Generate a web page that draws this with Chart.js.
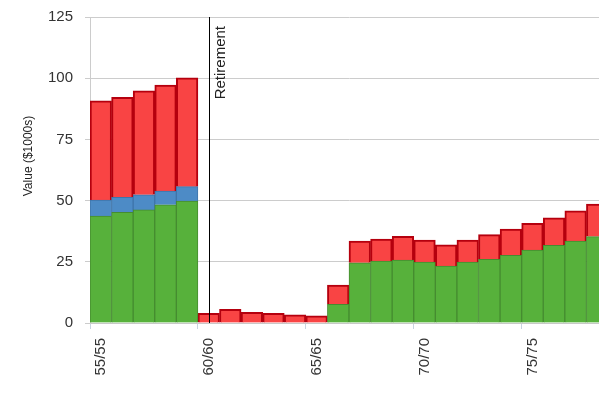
<!DOCTYPE html>
<html>
<head>
<meta charset="utf-8">
<script src="https://cdn.jsdelivr.net/npm/chart.js@4/dist/chart.umd.min.js"></script>
<style>
  html, body { margin: 0; padding: 0; background: #fff; overflow: hidden; }
  canvas { display: block; }
</style>
</head>
<body>
<canvas id="Grafico" width="608" height="396"></canvas>
<script>
const ages = [55, 56, 57, 58, 59, 60, 61, 62, 63, 64, 65, 66, 67, 68, 69, 70, 71, 72, 73, 74, 75, 76, 77, 78];
const labels = ages.map(a => a + '/' + a);

const green = [43.7, 45.2, 46.2, 48.3, 49.8, null, null, null, null, null, null,
  7.6, 24.6, 25.3, 25.7, 24.9, 23.3, 24.9, 26.0, 27.6, 29.8, 31.7, 33.5, 35.3];
const blue = [6.5, 6.1, 6.2, 5.6, 5.9, null, null, null, null, null, null,
  null, null, null, null, null, null, null, null, null, null, null, null, null];
const red = [40.6, 40.9, 42.4, 43.3, 44.5, 4.0, 5.6, 4.4, 4.0, 3.3, 2.9,
  7.9, 8.9, 9.0, 9.7, 9.0, 8.6, 9.0, 10.1, 10.8, 10.9, 11.3, 12.3, 13.3];

const yTicks = [0, 25, 50, 75, 100, 125];
const retirementAge = '60/60';
const yTitle = 'Value ($1000s)';
const FONT = '"Liberation Sans", Arial, sans-serif';

// retirement marker + y axis title
const extras = {
    id: 'extras',
    afterDatasetsDraw(chart) {
        const ctx = chart.ctx;
        const x = Math.round(chart.scales.x.getPixelForValue(labels.indexOf(retirementAge))) + 0.5;
        const area = chart.chartArea;
        ctx.save();
        ctx.strokeStyle = '#000';
        ctx.lineWidth = 1;
        ctx.beginPath();
        ctx.moveTo(x, area.top);
        ctx.lineTo(x, area.bottom);
        ctx.stroke();
        ctx.translate(x + 4, area.top + 9);
        ctx.rotate(-Math.PI / 2);
        ctx.fillStyle = '#222';
        ctx.font = '15px ' + FONT;
        ctx.textAlign = 'right';
        ctx.textBaseline = 'top';
        ctx.fillText('Retirement', 0, 0);
        ctx.restore();

        ctx.save();
        ctx.translate(29, 156);
        ctx.rotate(-Math.PI / 2);
        ctx.fillStyle = '#222';
        ctx.font = '12px ' + FONT;
        ctx.textAlign = 'center';
        ctx.textBaseline = 'middle';
        ctx.fillText(yTitle, 0, 0);
        ctx.restore();
    }
};

const contexto = document.getElementById('Grafico').getContext('2d');

const data = {
    labels,
    datasets: [
        { label: 'green', data: green, backgroundColor: '#57b13b', borderColor: '#458c30', borderWidth: 1 },
        { label: 'blue', data: blue, backgroundColor: '#4d8bc6', borderColor: '#3f75aa', borderWidth: 1 },
        { label: 'red', data: red, backgroundColor: '#f94444', borderColor: '#b5000e', borderWidth: 2 }
    ]
};

const config = {
    type: 'bar',
    data,
    plugins: [extras],
    options: {
        responsive: false,
        animation: false,
        layout: { padding: { top: 17, left: 0, right: 0, bottom: 0 } },
        datasets: { bar: { barPercentage: 1, categoryPercentage: 1 } },
        plugins: { legend: { display: false }, tooltip: { enabled: false } },
        scales: {
            x: {
                stacked: true,
                afterFit: s => { s.height = 73; s.paddingLeft = 0; s.paddingRight = 0; },
                grid: {
                    drawOnChartArea: false,
                    tickLength: 6,
                    tickColor: c => (c.index % 5 === 0 ? '#c8d4e0' : 'rgba(0,0,0,0)')
                },
                border: { color: '#c8c8c8' },
                ticks: {
                    autoSkip: false,
                    maxRotation: 90,
                    minRotation: 90,
                    padding: 9,
                    color: '#333',
                    font: { family: FONT, size: 15 },
                    callback: (v, i) => (i % 5 === 0 ? labels[i] : '')
                }
            },
            y: {
                stacked: true,
                min: 0,
                max: 125,
                afterFit: s => { s.width = 90; s.paddingTop = 0; s.paddingBottom = 0; },
                afterBuildTicks: s => { s.ticks = yTicks.map(v => ({ value: v })); },
                grid: { color: '#cccccc', tickLength: 5, tickColor: '#cccccc' },
                border: { color: '#cccccc' },
                ticks: {
                    padding: 12,
                    color: '#333',
                    font: { family: FONT, size: 15 }
                }
            }
        }
    }
};

const Grafico = new Chart(contexto, config);
</script>
</body>
</html>
